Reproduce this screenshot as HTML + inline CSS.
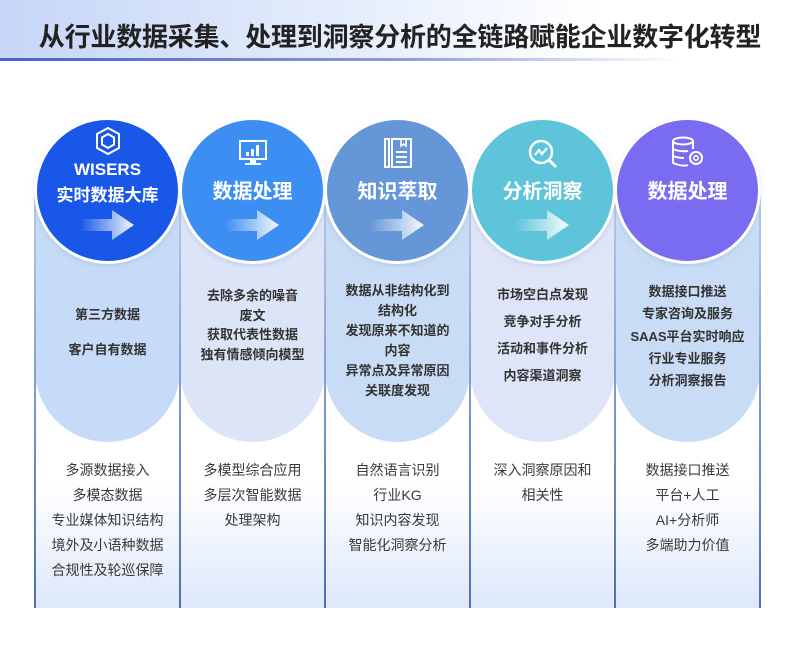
<!DOCTYPE html>
<html><head><meta charset="utf-8"><style>
*{margin:0;padding:0;box-sizing:border-box}
body{width:800px;height:665px;background:#fff;position:relative;overflow:hidden;font-family:"Liberation Sans","Noto Sans CJK SC",sans-serif}
.hdr{position:absolute;left:0;top:0;width:800px;height:60px;background:linear-gradient(90deg,#c6d6f7 0%,#e6eefc 45%,#fff 75%)}
.hline{position:absolute;left:0;top:58px;width:800px;height:3px;background:linear-gradient(90deg,#4a5fc8 0%,#8a9be0 50%,rgba(255,255,255,0) 85%)}
.title{position:absolute;left:0;top:17px;width:800px;text-align:center;font-size:26px;font-weight:bold;color:#222;letter-spacing:-0.2px}
.colbg{position:absolute;top:190px;width:145px;height:418px;background:linear-gradient(180deg,#fff 0%,#fff 70%,#dde8fb 100%)}
.vl{position:absolute;top:190px;width:2px;height:418px;background:linear-gradient(180deg,#b9cdea,#6f8fc8 60%,#4d6fb5)}
.pill{position:absolute;top:190px;width:145px;height:252px;border-radius:0 0 73px 73px}
.circ{position:absolute;top:117px;width:147px;height:147px;border-radius:50%;border:3px solid #fff;color:#fff;text-align:center;box-shadow:0 2px 4px rgba(120,150,200,.25)}
.h{position:absolute;left:0;width:100%;font-weight:bold;font-size:20px}
.arr{position:absolute;left:43px;top:90px;width:54px;height:30px}
.mid{position:absolute;width:145px;text-align:center;font-size:13px;font-weight:bold;color:#333}
.bot{position:absolute;top:458px;width:145px;text-align:center;font-size:14px;color:#3a3a3a;line-height:25px}
.ic{position:absolute;left:50%;transform:translateX(-50%)}
</style></head><body>
<div class="hdr"></div><div class="hline"></div>
<div class="title">从行业数据采集、处理到洞察分析的全链路赋能企业数字化转型</div>

<div class="colbg" style="left:35px"></div><div class="colbg" style="left:180px"></div><div class="colbg" style="left:325px"></div><div class="colbg" style="left:470px"></div><div class="colbg" style="left:615px"></div>

<div class="pill" style="left:35px;background:#c6dbf7"></div>
<div class="pill" style="left:180px;background:#dce4f8"></div>
<div class="pill" style="left:325px;background:#c9dcf5"></div>
<div class="pill" style="left:470px;background:#dee5f8"></div>
<div class="pill" style="left:615px;background:#c9dcf6"></div>

<div class="vl" style="left:34px"></div><div class="vl" style="left:179px"></div><div class="vl" style="left:324px"></div><div class="vl" style="left:469px"></div><div class="vl" style="left:614px"></div><div class="vl" style="left:759px"></div>

<svg width="0" height="0" style="position:absolute"><defs><linearGradient id="ag" x1="0" x2="1"><stop offset="0" stop-color="#fff" stop-opacity="0"/><stop offset="1" stop-color="#fff" stop-opacity=".95"/></linearGradient></defs></svg>

<div class="circ" style="left:34px;background:#1857e8">
 <svg class="ic" style="top:6px" width="28" height="30" viewBox="0 0 28 30"><path d="M14 2 L25 8 V22 L14 28 L3 22 V8 Z" fill="none" stroke="#fff" stroke-width="2"/><path d="M14 8 L20 11.5 V18.5 L14 22 L8 18.5 V11.5 Z" fill="none" stroke="#fff" stroke-width="2"/></svg>
 <div class="h" style="top:40px;font-size:17px">WISERS</div>
 <div class="h" style="top:61px;font-size:17px">实时数据大库</div>
 <svg class="arr" viewBox="0 0 54 30"><path d="M0 9 H32 V0 L54 15 L32 30 V21 H0 Z" fill="url(#ag)"/></svg>
</div>
<div class="circ" style="left:179px;background:#3d8ef2">
 <svg class="ic" style="top:19px" width="30" height="28" viewBox="0 0 30 28"><rect x="2" y="2" width="26" height="18" fill="none" stroke="#fff" stroke-width="2"/><rect x="8" y="13" width="3" height="4" fill="#fff"/><rect x="13" y="10" width="3" height="7" fill="#fff"/><rect x="18" y="6" width="3" height="11" fill="#fff"/><rect x="12" y="21" width="6" height="3" fill="#fff"/><rect x="7" y="24" width="16" height="2" fill="#fff"/></svg>
 <div class="h" style="top:55px">数据处理</div>
 <svg class="arr" viewBox="0 0 54 30"><path d="M0 9 H32 V0 L54 15 L32 30 V21 H0 Z" fill="url(#ag)"/></svg>
</div>
<div class="circ" style="left:324px;background:#6596d8">
 <svg class="ic" style="top:17px" width="32" height="32" viewBox="0 0 32 32"><rect x="3" y="2" width="4" height="28" fill="none" stroke="#fff" stroke-width="2"/><rect x="10" y="2" width="19" height="28" fill="none" stroke="#fff" stroke-width="2"/><path d="M19 2 V9 L21.5 7 L24 9 V2" fill="none" stroke="#fff" stroke-width="1.6"/><path d="M14 15 H25 M14 20 H25 M14 25 H25" stroke="#fff" stroke-width="2"/></svg>
 <div class="h" style="top:55px">知识萃取</div>
 <svg class="arr" viewBox="0 0 54 30"><path d="M0 9 H32 V0 L54 15 L32 30 V21 H0 Z" fill="url(#ag)"/></svg>
</div>
<div class="circ" style="left:469px;background:#5ec4da">
 <svg class="ic" style="top:18px" width="32" height="32" viewBox="0 0 32 32"><circle cx="14" cy="14" r="11" fill="none" stroke="#fff" stroke-width="2.4"/><path d="M22 22 L29 29" stroke="#fff" stroke-width="3"/><path d="M8 17 L12 12 L15 16 L20 10" fill="none" stroke="#fff" stroke-width="2.2"/></svg>
 <div class="h" style="top:55px">分析洞察</div>
 <svg class="arr" viewBox="0 0 54 30"><path d="M0 9 H32 V0 L54 15 L32 30 V21 H0 Z" fill="url(#ag)"/></svg>
</div>
<div class="circ" style="left:614px;background:#7a6cf0">
 <svg class="ic" style="top:16px" width="36" height="32" viewBox="0 0 36 32"><ellipse cx="13" cy="5" rx="10" ry="3.5" fill="none" stroke="#fff" stroke-width="2"/><path d="M3 5 V27 Q13 31 18 29 M23 5 V13 M3 13 Q10 16 18 15 M3 20 Q8 22 14 22" fill="none" stroke="#fff" stroke-width="2"/><circle cx="26" cy="22" r="6" fill="none" stroke="#fff" stroke-width="2"/><circle cx="26" cy="22" r="2.2" fill="none" stroke="#fff" stroke-width="1.6"/></svg>
 <div class="h" style="top:55px">数据处理</div>
</div>

<div class="mid" style="left:35px;top:297px;line-height:35px">第三方数据<br>客户自有数据</div>
<div class="mid" style="left:180px;top:286px;line-height:19.5px">去除多余的噪音<br>废文<br>获取代表性数据<br>独有情感倾向模型</div>
<div class="mid" style="left:325px;top:281px;line-height:20px">数据从非结构化到<br>结构化<br>发现原来不知道的<br>内容<br>异常点及异常原因<br>关联度发现</div>
<div class="mid" style="left:470px;top:281px;line-height:27px">市场空白点发现<br>竞争对手分析<br>活动和事件分析<br>内容渠道洞察</div>
<div class="mid" style="left:615px;top:281px;line-height:22.3px">数据接口推送<br>专家咨询及服务<br>SAAS平台实时响应<br>行业专业服务<br>分析洞察报告</div>

<div class="bot" style="left:35px">多源数据接入<br>多模态数据<br>专业媒体知识结构<br>境外及小语种数据<br>合规性及轮巡保障</div>
<div class="bot" style="left:180px">多模型综合应用<br>多层次智能数据<br>处理架构</div>
<div class="bot" style="left:325px">自然语言识别<br>行业KG<br>知识内容发现<br>智能化洞察分析</div>
<div class="bot" style="left:470px">深入洞察原因和<br>相关性</div>
<div class="bot" style="left:615px">数据接口推送<br>平台+人工<br>AI+分析师<br>多端助力价值</div>
</body></html>
